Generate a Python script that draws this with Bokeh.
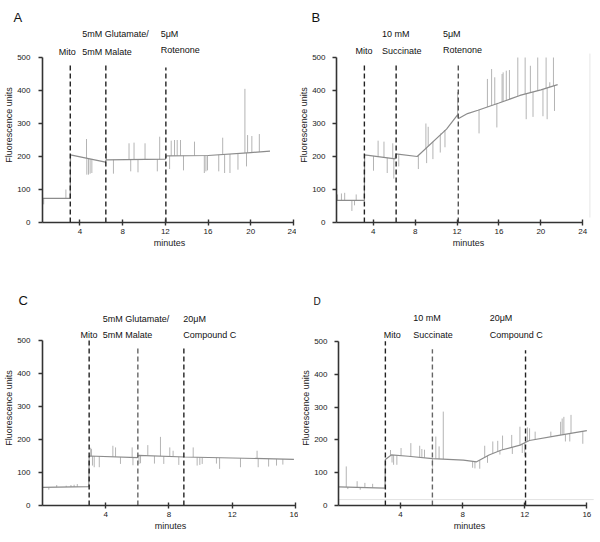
import numpy as np
from bokeh.plotting import figure
from bokeh.layouts import column, row
from bokeh.models import Range1d, FixedTicker
from bokeh.core.properties import value
from bokeh.embed import file_html
from bokeh.resources import INLINE

FONT = "Liberation Sans"

# ---------------- data ----------------
# Panel A : Glutamate/Malate then Rotenone
A_base_t = [0.5, 3.1, 3.12, 6.4, 6.45, 12.0, 12.1, 16.0, 20.0, 21.8]
A_base_v = [73, 73, 205, 183, 190, 192, 202, 203, 212, 216]
A_spike_t = [0.61, 2.69, 4.62, 4.65, 4.81, 4.96, 5.12, 6.49, 7.14, 8.6, 8.76, 9.07, 9.44,
             10.1, 11.25, 11.47, 12.4, 12.55, 12.86, 13.11, 13.42, 13.7, 14.73, 15.65,
             15.8, 15.95, 17.0, 17.37, 17.55, 18.05, 18.8, 19.45, 19.6, 19.7, 20.1, 20.8]
A_spike_v = [55, 100, 253, 145, 145, 148, 150, 235, 148, 240, 155, 242, 152,
             240, 155, 260, 162, 248, 250, 250, 250, 158, 245, 150,
             155, 158, 155, 257, 150, 150, 160, 405, 170, 265, 262, 268]
A_event_t = [3.1, 6.43, 12.05]
A_event_top = [482, 479, 470]

# Panel B : Succinate then Rotenone
B_base_t = [0.5, 3.16, 3.18, 6.1, 6.15, 8.2, 11.0, 12.05, 12.15, 13.0, 14.0, 16.0, 18.0, 20.0, 21.6]
B_base_v = [67, 67, 205, 193, 208, 200, 283, 326, 315, 330, 340, 362, 385, 402, 418]
B_spike_t = [0.6, 0.97, 1.28, 1.97, 2.22, 2.38, 4.03, 4.47, 5.03, 5.34, 5.87, 5.97, 6.44,
             8.31, 9.03, 9.1, 9.25, 9.7, 10.3, 10.4, 10.45, 10.8, 10.85, 12.06,
             14.1, 14.9, 15.3, 15.6, 15.8, 16.3, 16.4, 16.7, 17.0, 17.8, 18.5, 18.6,
             19.0, 19.25, 19.7, 20.2, 20.5, 20.6, 20.85, 21.2, 21.3]
B_spike_v = [85, 88, 90, 35, 52, 85, 157, 248, 245, 150, 240, 133, 170,
             162, 300, 180, 290, 192, 263, 212, 270, 280, 228, 395,
             270, 435, 465, 440, 288, 450, 455, 460, 462, 500, 500, 313,
             475, 320, 500, 322, 500, 313, 425, 500, 338]
B_event_t = [3.16, 6.19, 12.12]
B_event_top = [482, 476, 476]
B_edge_t = 24.68
B_edge_v = [15, 512]

# Panel C : Glutamate/Malate then Compound C
C_base_t = [0.0, 2.93, 2.95, 6.0, 6.05, 9.0, 15.9]
C_base_v = [55, 57, 150, 145, 152, 147, 140]
C_spike_t = [0.4, 0.9, 1.5, 1.8, 2.0, 2.2, 3.05, 3.1, 3.16, 3.27, 3.59, 4.45, 4.62, 4.93,
             5.67, 5.72, 6.1, 6.2, 6.66, 7.08, 7.46, 7.67, 8.05, 8.26, 8.62, 9.53, 9.78,
             9.95, 10.1, 11.0, 11.2, 12.52, 13.57, 13.64, 14.3, 14.8, 15.2]
C_spike_v = [48, 62, 60, 62, 63, 65, 175, 171, 121, 116, 116, 181, 176, 126,
             176, 122, 126, 128, 183, 127, 208, 126, 176, 166, 123, 176, 121,
             123, 126, 127, 111, 116, 166, 116, 118, 121, 124]
C_event_t = [2.95, 6.03, 8.94]
C_event_top = [500, 478, 478]

# Panel D : Succinate then Compound C
D_base_t = [0.0, 3.0, 3.02, 3.4, 4.5, 6.05, 8.05, 8.9, 9.7, 10.5, 11.7, 12.0, 12.3, 14.1, 16.0]
D_base_v = [57, 53, 140, 154, 150, 143, 138, 133, 154, 169, 184, 191, 198, 213, 228]
D_spike_t = [0.5, 0.6, 1.2, 1.4, 1.7, 2.2, 3.35, 3.45, 3.55, 3.76, 4.03, 4.66, 5.23, 5.37,
             5.54, 6.06, 6.27, 6.48, 6.75, 8.64, 8.79, 9.1, 9.42, 9.6, 9.94, 10.26, 10.4,
             10.57, 11.16, 11.2, 11.69, 11.84, 12.0, 12.17, 12.31, 12.67, 13.68, 14.31,
             14.41, 14.52, 14.62, 14.9, 14.98, 15.74]
D_spike_v = [119, 50, 74, 48, 69, 66, 169, 131, 124, 124, 175, 190, 182, 172,
             170, 115, 210, 180, 286, 115, 113, 112, 182, 130, 195, 197, 155,
             213, 215, 157, 240, 160, 150, 238, 235, 225, 225, 255,
             265, 270, 195, 195, 276, 188]
D_event_t = [3.02, 6.05, 12.05]
D_event_top = [500, 476, 473]
D_floor_t = [0.0, 16.44]
D_floor_v = [18, 18]

Y_TICKS = [0, 100, 200, 300, 400, 500]
X_TICKS_24 = [4, 8, 12, 16, 20, 24]
X_TICKS_16 = [4, 8, 12, 16]

A_texts = ["Mito", "5mM Glutamate/", "5mM Malate", "5\u03bcM", "Rotenone"]
B_texts = ["Mito", "10 mM", "Succinate", "5\u03bcM", "Rotenone"]
C_texts = ["Mito", "5mM Glutamate/", "5mM Malate", "20\u03bcM", "Compound C"]
D_texts = ["Mito", "10 mM", "Succinate", "20\u03bcM", "Compound C"]


def make_panel(letter, width, height, xr, ytop, xbounds, xticks, border, base_t, base_v,
               spike_t, spike_v, ev_t, ev_top, ev_colors, texts, text_pos,
               letter_size, letter_offset, letter_standoff, ylab_standoff):
    p = figure(width=width, height=height, x_range=Range1d(*xr), y_range=Range1d(0, ytop),
               output_backend="svg", toolbar_location=None,
               min_border_left=border[0], min_border_right=border[1],
               min_border_top=border[2], min_border_bottom=border[3])
    p.outline_line_color = None
    p.grid.visible = False
    p.background_fill_color = "white"
    p.border_fill_color = "white"

    p.title.text = letter
    p.title.align = "left"
    p.title.offset = letter_offset
    p.title.standoff = letter_standoff
    p.title.text_font = FONT
    p.title.text_font_size = letter_size
    p.title.text_font_style = "normal"
    p.title.text_color = "#111111"

    # spikes from the trace
    bt = np.array(base_t, dtype=float)
    bv = np.array(base_v, dtype=float)
    st = np.array(spike_t, dtype=float)
    sv = np.array(spike_v, dtype=float)
    sb = np.interp(st, bt, bv)
    p.segment(x0=st, y0=sb, x1=st, y1=sv, line_color="#b4b4b4", line_width=1)
    # trace
    p.line(bt, bv, line_color="#8c8c8c", line_width=1.2)

    # event dashed lines
    for t, top, c in zip(ev_t, ev_top, ev_colors):
        p.segment(x0=[t], y0=[0], x1=[t], y1=[top], line_color=c, line_width=1.4,
                  line_dash="5 3")

    # axes
    for ax in (p.xaxis[0], p.yaxis[0]):
        ax.axis_line_color = "#333333"
        ax.axis_line_width = 1.6
        ax.major_tick_line_color = "#333333"
        ax.major_tick_line_width = 1.4
        ax.minor_tick_line_color = None
        ax.major_label_text_font = FONT
        ax.major_label_text_font_size = "8px"
        ax.major_label_text_color = "#222222"
        ax.axis_label_text_font = FONT
        ax.axis_label_text_font_size = "9px"
        ax.axis_label_text_font_style = "normal"
        ax.axis_label_text_color = "#222222"
    p.xaxis.ticker = FixedTicker(ticks=xticks)
    p.xaxis.bounds = xbounds
    p.xaxis.axis_label = "minutes"
    p.xaxis.major_tick_in = 3
    p.xaxis.major_tick_out = 3
    p.xaxis.major_label_standoff = 3
    p.xaxis.axis_label_standoff = 1
    p.yaxis.ticker = FixedTicker(ticks=Y_TICKS)
    p.yaxis.bounds = (0, 500)
    p.yaxis.axis_label = "Fluorescence units"
    p.yaxis.major_tick_in = 0
    p.yaxis.major_tick_out = 4
    p.yaxis.major_label_standoff = ylab_standoff
    p.yaxis.axis_label_standoff = 0

    for txt, (x, y, align) in zip(texts, text_pos):
        p.text(x=[x], y=[y], text=[txt], text_font=value(FONT), text_font_size=value("9px"),
               text_align=align, text_baseline="middle", text_color="#111111")
    return p


# row 1: frame top 27, frame bottom 222  -> 500 units per 165 px
Y1 = (222 - 27) * 500 / 165
pa = make_panel("A", 296, 270, (0.5, 24.28), Y1, (0.5, 24), X_TICKS_24, (42, 0, 27, 48),
                A_base_t, A_base_v, A_spike_t, A_spike_v, A_event_t, A_event_top,
                ["#222222", "#222222", "#222222"], A_texts,
                [(2.81, 518, "center"), (4.22, 570, "left"), (4.22, 518, "left"),
                 (11.56, 570, "left"), (11.56, 522, "left")],
                "13px", -29, 5, 8)

pb = make_panel("B", 304, 270, (0.5, 25.69), Y1, (0.5, 24), X_TICKS_24, (35, 0, 27, 48),
                B_base_t, B_base_v, B_spike_t, B_spike_v, B_event_t, B_event_top,
                ["#222222", "#222222", "#555555"], B_texts,
                [(3.12, 519, "center"), (4.84, 570, "left"), (4.84, 519, "left"),
                 (10.65, 570, "left"), (10.65, 524, "left")],
                "13px", -25, 5, 7)
pb.segment(x0=[B_edge_t], y0=[B_edge_v[0]], x1=[B_edge_t], y1=[B_edge_v[1]],
           line_color="#e6e6e6", line_width=1)

# row 2: frame top 310; C bottom 505, D bottom 506
YC = (505 - 310) * 500 / 165
YD = (506 - 310) * 500 / 165
pc = make_panel("C", 298, 270, (0, 16.19), YC, (0, 16), X_TICKS_16, (42, 0, 40, 35),
                C_base_t, C_base_v, C_spike_t, C_spike_v, C_event_t, C_event_top,
                ["#222222", "#666666", "#222222"], C_texts,
                [(2.94, 517, "center"), (3.81, 566, "left"), (3.81, 517, "left"),
                 (8.9, 566, "left"), (8.9, 518, "left")],
                "13px", -24, 5, 8)

pd_ = make_panel("D", 302, 270, (0, 16.88), YD, (0, 16), X_TICKS_16, (34, 0, 40, 34),
                 D_base_t, D_base_v, D_spike_t, D_spike_v, D_event_t, D_event_top,
                 ["#222222", "#666666", "#222222"], D_texts,
                 [(3.46, 518, "center"), (4.81, 571, "left"), (4.81, 518, "left"),
                  (9.74, 571, "left"), (9.74, 518, "left")],
                 "10px", -25, 8, 7)
pd_.line(D_floor_t, D_floor_v, line_color="#e2e2e2", line_width=1)

layout = column(row(pa, pb), row(pc, pd_))
open("out.html", "w").write(file_html(layout, INLINE))
